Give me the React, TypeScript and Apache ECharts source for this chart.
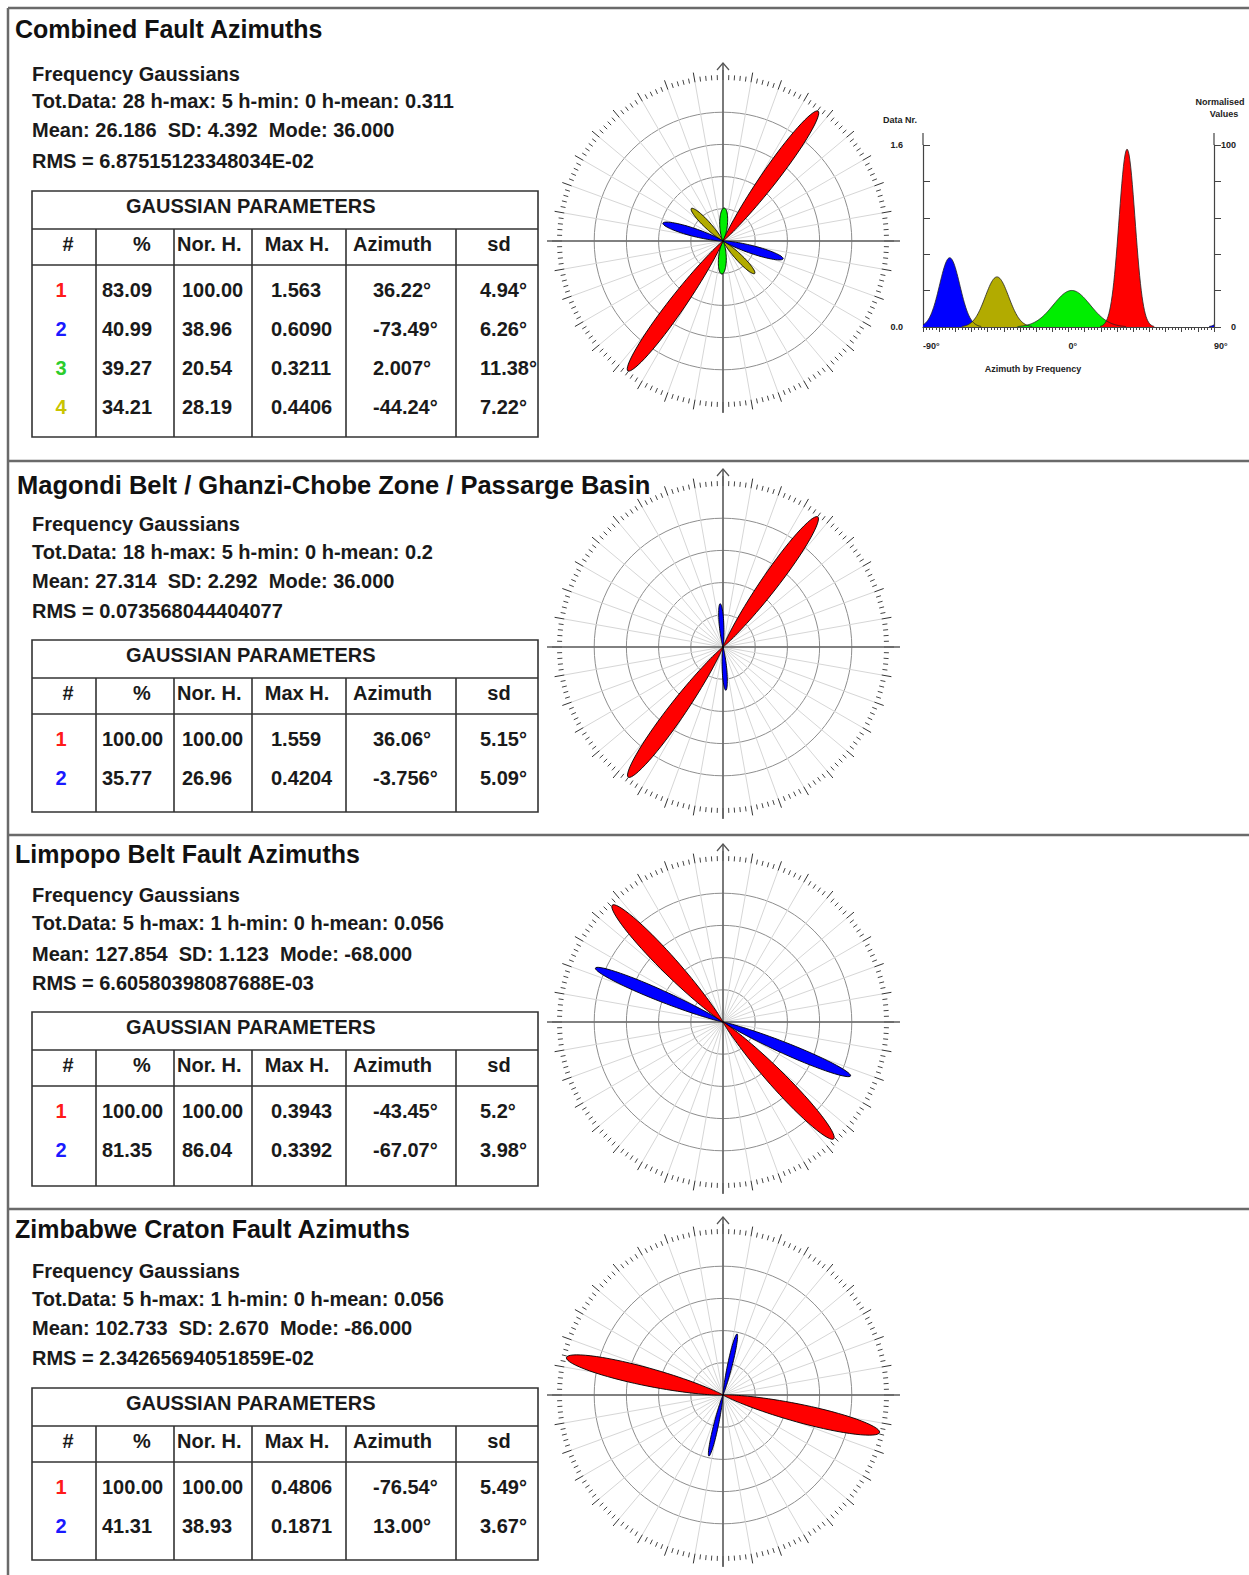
import React, { useEffect, useRef } from "react";
import * as echarts from "echarts";

const FONT = '"Liberation Sans", Arial, Helvetica, sans-serif';

// ---------- texts ----------
const panelTitles = [
  "Combined Fault Azimuths",
  "Magondi Belt / Ghanzi-Chobe Zone / Passarge Basin",
  "Limpopo Belt Fault Azimuths",
  "Zimbabwe Craton Fault Azimuths",
];
const subtitle = "Frequency Gaussians";
const totLines = [
  "Tot.Data: 28 h-max: 5 h-min: 0 h-mean: 0.311",
  "Tot.Data: 18 h-max: 5 h-min: 0 h-mean: 0.2",
  "Tot.Data: 5 h-max: 1 h-min: 0 h-mean: 0.056",
  "Tot.Data: 5 h-max: 1 h-min: 0 h-mean: 0.056",
];
const meanLines = [
  "Mean: 26.186  SD: 4.392  Mode: 36.000",
  "Mean: 27.314  SD: 2.292  Mode: 36.000",
  "Mean: 127.854  SD: 1.123  Mode: -68.000",
  "Mean: 102.733  SD: 2.670  Mode: -86.000",
];
const rmsLines = [
  "RMS = 6.87515123348034E-02",
  "RMS = 0.073568044404077",
  "RMS = 6.60580398087688E-03",
  "RMS = 2.34265694051859E-02",
];
const tableTitle = "GAUSSIAN PARAMETERS";
const columnHeads = ["#", "%", "Nor. H.", "Max H.", "Azimuth", "sd"];

// ---------- gaussian parameters (one array per column, per panel) ----------
const p1Pct = ["83.09", "40.99", "39.27", "34.21"];
const p1NorH = ["100.00", "38.96", "20.54", "28.19"];
const p1MaxH = ["1.563", "0.6090", "0.3211", "0.4406"];
const p1Az = ["36.22", "-73.49", "2.007", "-44.24"];
const p1Sd = ["4.94", "6.26", "11.38", "7.22"];

const p2Pct = ["100.00", "35.77"];
const p2NorH = ["100.00", "26.96"];
const p2MaxH = ["1.559", "0.4204"];
const p2Az = ["36.06", "-3.756"];
const p2Sd = ["5.15", "5.09"];

const p3Pct = ["100.00", "81.35"];
const p3NorH = ["100.00", "86.04"];
const p3MaxH = ["0.3943", "0.3392"];
const p3Az = ["-43.45", "-67.07"];
const p3Sd = ["5.2", "3.98"];

const p4Pct = ["100.00", "41.31"];
const p4NorH = ["100.00", "38.93"];
const p4MaxH = ["0.4806", "0.1871"];
const p4Az = ["-76.54", "13.00"];
const p4Sd = ["5.49", "3.67"];

const panels = [
  { pct: p1Pct, norH: p1NorH, maxH: p1MaxH, az: p1Az, sd: p1Sd },
  { pct: p2Pct, norH: p2NorH, maxH: p2MaxH, az: p2Az, sd: p2Sd },
  { pct: p3Pct, norH: p3NorH, maxH: p3MaxH, az: p3Az, sd: p3Sd },
  { pct: p4Pct, norH: p4NorH, maxH: p4MaxH, az: p4Az, sd: p4Sd },
];

// histogram axis labels
const histYLabels = ["0.0", "1.6"];
const histY2Labels = ["0", "100"];
const histXLabels = ["-90°", "0°", "90°"];

const gaussColors = ["#ff0000", "#0000ff", "#00ee00", "#b2ab00"];
const numberColors = ["#ff1a1a", "#1a1aff", "#2ccc2c", "#c9c400"];

// ---------- layout ----------
const roseCenters = [
  [723, 241],
  [723, 647],
  [723, 1022],
  [723, 1395],
];
const R = 161;
const titlePos = [
  [15, 29],
  [17, 485],
  [15, 854],
  [15, 1229],
];
const textLinesY = [
  [74, 101, 130, 161],
  [524, 552, 581, 611],
  [895, 923, 954, 983],
  [1271, 1299, 1328, 1358],
];
const tableTop = [191, 640, 1012, 1388];
const tableBottom = [437, 812, 1186, 1560];
const colX = [32, 96, 174, 252, 346, 456, 538];
const separatorsY = [8, 461, 835, 1209];

function normAngle(a: number) {
  return ((a % 360) + 360) % 360;
}

function renderPetal(params: any, api: any) {
  const h = api.value(0);
  const az = api.value(1);
  const sd = api.value(2);
  const color = api.visual("color");
  const children: any[] = [];
  for (const base of [az, az + 180]) {
    const pts: number[][] = [api.coord([0, 0])];
    const span = 3.8 * sd;
    for (let t = -span; t <= span + 1e-9; t += sd / 14) {
      const r = h * Math.exp(-(t * t) / (2 * sd * sd));
      pts.push(api.coord([r, normAngle(base + t)]));
    }
    children.push({
      type: "polygon",
      shape: { points: pts },
      style: { fill: color, stroke: "#000", lineWidth: 0.9 },
    });
  }
  return { type: "group", children };
}

function histSegments(az: number, sd: number, h: number) {
  const segs: number[][][] = [];
  let cur: number[][] | null = null;
  for (let x = -90; x <= 90.0001; x += 0.5) {
    let y = 0;
    for (const k of [-180, 0, 180]) {
      const d = x - az - k;
      y += h * Math.exp(-(d * d) / (2 * sd * sd));
    }
    if (y > 0.004) {
      if (!cur) {
        cur = [];
        segs.push(cur);
      }
      cur.push([x, y]);
    } else {
      cur = null;
    }
  }
  return segs;
}

function renderHistFill(params: any, api: any) {
  const az = api.value(0);
  const h = api.value(1);
  const sd = api.value(2);
  const color = api.visual("color");
  const segs = histSegments(az, sd, h);
  return {
    type: "group",
    children: segs.map((s) => ({
      type: "polygon",
      shape: {
        points: [
          api.coord([s[0][0], 0]),
          ...s.map((p) => api.coord(p)),
          api.coord([s[s.length - 1][0], 0]),
        ],
      },
      style: { fill: color, stroke: "none" },
    })),
  };
}

function renderHistLine(params: any, api: any) {
  const az = api.value(0);
  const h = api.value(1);
  const sd = api.value(2);
  const segs = histSegments(az, sd, h);
  return {
    type: "group",
    children: segs.map((s) => ({
      type: "polyline",
      shape: { points: s.map((p) => api.coord(p)) },
      style: { fill: "none", stroke: "#222", lineWidth: 0.8 },
    })),
  };
}

function txt(x: number, y: number, text: string, size: number, o: any = {}) {
  return {
    type: "text",
    x,
    y,
    z: 20,
    silent: true,
    style: {
      text,
      fontSize: size,
      fontWeight: o.weight || "bold",
      fontFamily: FONT,
      fill: o.fill || "#111",
      align: o.align || "left",
      verticalAlign: "middle",
    },
  };
}

function line(x1: number, y1: number, x2: number, y2: number, stroke: string, w: number, z = 20) {
  return { type: "line", z, silent: true, shape: { x1, y1, x2, y2 }, style: { stroke, lineWidth: w } };
}

function buildOption() {
  const elements: any[] = [];

  // panel frame
  separatorsY.forEach((y) => elements.push(line(8, y, 1249, y, "#6a6a6a", 2.5)));
  elements.push(line(8, 8, 8, 1575, "#6a6a6a", 2.5));

  panels.forEach((p, i) => {
    const [tx, ty] = titlePos[i];
    elements.push(txt(tx, ty, panelTitles[i], i === 1 ? 25.5 : 25, { fill: "#111" }));
    const ly = textLinesY[i];
    elements.push(txt(32, ly[0], subtitle, 20, { fill: "#1a1a1a" }));
    elements.push(txt(32, ly[1], totLines[i], 20, { fill: "#1a1a1a" }));
    elements.push(txt(32, ly[2], meanLines[i], 20, { fill: "#1a1a1a" }));
    elements.push(txt(32, ly[3], rmsLines[i], 20, { fill: "#1a1a1a" }));

    // table
    const top = tableTop[i];
    const bottom = tableBottom[i];
    const h1 = top + 38;
    const h2 = top + 74;
    const L = colX[0];
    const Rr = colX[colX.length - 1];
    elements.push({
      type: "rect",
      z: 20,
      silent: true,
      shape: { x: L, y: top, width: Rr - L, height: bottom - top },
      style: { fill: "none", stroke: "#333", lineWidth: 1.6 },
    });
    elements.push(line(L, h1, Rr, h1, "#333", 1.6));
    elements.push(line(L, h2, Rr, h2, "#333", 1.6));
    for (let c = 1; c < colX.length - 1; c++) elements.push(line(colX[c], h1, colX[c], bottom, "#333", 1.6));
    elements.push(txt(126, top + 15, tableTitle, 20, { fill: "#1a1a1a" }));
    const chY = top + 53;
    elements.push(txt(68, chY, columnHeads[0], 20, { align: "center", fill: "#1a1a1a" }));
    elements.push(txt(142, chY, columnHeads[1], 20, { align: "center", fill: "#1a1a1a" }));
    elements.push(txt(177, chY, columnHeads[2], 20, { fill: "#1a1a1a" }));
    elements.push(txt(297, chY, columnHeads[3], 20, { align: "center", fill: "#1a1a1a" }));
    elements.push(txt(353, chY, columnHeads[4], 20, { fill: "#1a1a1a" }));
    elements.push(txt(499, chY, columnHeads[5], 20, { align: "center", fill: "#1a1a1a" }));
    p.pct.forEach((_, k) => {
      const y = top + 99 + 39 * k;
      elements.push(txt(61, y, String(k + 1), 20, { align: "center", fill: numberColors[k] }));
      elements.push(txt(102, y, p.pct[k], 20, { fill: "#1a1a1a" }));
      elements.push(txt(182, y, p.norH[k], 20, { fill: "#1a1a1a" }));
      elements.push(txt(271, y, p.maxH[k], 20, { fill: "#1a1a1a" }));
      elements.push(txt(373, y, p.az[k] + "°", 20, { fill: "#1a1a1a" }));
      elements.push(txt(480, y, p.sd[k] + "°", 20, { fill: "#1a1a1a" }));
    });

    // rose axes cross + north arrow
    const [cx, cy] = roseCenters[i];
    elements.push(line(cx - 176, cy, cx + 177, cy, "#5e5e5e", 1.6, 1));
    elements.push(line(cx, cy - 178, cx, cy + 172, "#5e5e5e", 1.6, 1));
    elements.push({
      type: "polyline",
      z: 1,
      silent: true,
      shape: { points: [[cx - 6, cy - 171], [cx, cy - 178], [cx + 6, cy - 171]] },
      style: { fill: "none", stroke: "#555", lineWidth: 1.2 },
    });
  });

  // histogram extra labels / axis extensions
  elements.push(line(923, 133, 923, 145, "#444", 1.2));
  elements.push(line(1214, 133, 1214, 145, "#444", 1.2));
  elements.push(txt(900, 120, "Data Nr.", 9, { align: "center", fill: "#222" }));
  elements.push(txt(1220, 102, "Normalised", 9, { align: "center", fill: "#222" }));
  elements.push(txt(1224, 114, "Values", 9, { align: "center", fill: "#222" }));
  elements.push(txt(1033, 369, "Azimuth by Frequency", 9, { align: "center", fill: "#222" }));

  const polar = roseCenters.map((c) => ({ center: c, radius: R }));
  const angleAxis = roseCenters.map((_, i) => ({
    polarIndex: i,
    type: "value",
    min: 0,
    max: 360,
    interval: 10,
    startAngle: 90,
    clockwise: true,
    axisLine: { show: false },
    axisTick: { show: true, length: 10, lineStyle: { color: "#333", width: 1 } },
    minorTick: { show: true, splitNumber: 5, length: 5, lineStyle: { color: "#444", width: 1 } },
    axisLabel: { show: false },
    splitLine: { show: true, lineStyle: { color: "#d6d6d6", width: 1 } },
  }));
  const radiusAxis = roseCenters.map((_, i) => ({
    polarIndex: i,
    type: "value",
    min: 0,
    max: 100,
    interval: 20,
    axisLine: { show: false },
    axisTick: { show: false },
    axisLabel: { show: false },
    splitLine: {
      show: true,
      lineStyle: { color: ["#8e8e8e", "#8e8e8e", "#8e8e8e", "#8e8e8e", "#8e8e8e", "rgba(0,0,0,0)"], width: 1 },
    },
  }));

  const series: any[] = panels.map((p, i) => {
    const order = p.az.map((_, k) => k).reverse();
    return {
      type: "custom",
      coordinateSystem: "polar",
      polarIndex: i,
      z: 3,
      silent: true,
      renderItem: renderPetal,
      data: order.map((k) => ({
        value: [Number(p.norH[k]), Number(p.az[k]), Number(p.sd[k])],
        itemStyle: { color: gaussColors[k] },
      })),
    };
  });

  const p1 = panels[0];
  const histOrder = p1.az.map((_, k) => k).sort((a, b) => Number(p1.az[a]) - Number(p1.az[b]));
  const histData = histOrder.map((k) => ({
    value: [Number(p1.az[k]), Number(p1.maxH[k]), Number(p1.sd[k])],
    itemStyle: { color: gaussColors[k] },
  }));
  series.push({
    type: "custom",
    coordinateSystem: "cartesian2d",
    xAxisIndex: 0,
    yAxisIndex: 0,
    clip: true,
    z: 3,
    silent: true,
    renderItem: renderHistFill,
    data: histData,
  });
  series.push({
    type: "custom",
    coordinateSystem: "cartesian2d",
    xAxisIndex: 0,
    yAxisIndex: 0,
    clip: true,
    z: 4,
    silent: true,
    renderItem: renderHistLine,
    data: histData,
  });

  const smallLabel = { fontSize: 9, fontWeight: "bold", fontFamily: FONT, color: "#222" };

  return {
    animation: false,
    backgroundColor: "#ffffff",
    polar,
    angleAxis,
    radiusAxis,
    grid: [{ left: 923, top: 145, width: 291, height: 182 }],
    xAxis: [
      {
        gridIndex: 0,
        type: "value",
        min: -90,
        max: 90,
        interval: 10,
        axisLine: { onZero: false, lineStyle: { color: "#444", width: 1.2 } },
        axisTick: { show: true, length: 5, lineStyle: { color: "#444" } },
        minorTick: { show: true, splitNumber: 5, length: 3, lineStyle: { color: "#444" } },
        splitLine: { show: false },
        axisLabel: {
          ...smallLabel,
          interval: 0,
          showMinLabel: true,
          showMaxLabel: true,
          align: "left",
          margin: 14,
          formatter: (v: number) => (v === -90 ? histXLabels[0] : v === 0 ? histXLabels[1] : v === 90 ? histXLabels[2] : ""),
        },
      },
    ],
    yAxis: [
      {
        gridIndex: 0,
        type: "value",
        position: "left",
        min: 0,
        max: 1.6,
        interval: 0.32,
        axisLine: { show: true, onZero: false, lineStyle: { color: "#444", width: 1.2 } },
        axisTick: { show: true, inside: true, length: 7, lineStyle: { color: "#444" } },
        splitLine: { show: false },
        axisLabel: {
          ...smallLabel,
          margin: 20,
          showMinLabel: true,
          showMaxLabel: true,
          formatter: (v: number) => (Math.abs(v) < 1e-6 ? histYLabels[0] : Math.abs(v - 1.6) < 1e-6 ? histYLabels[1] : ""),
        },
      },
      {
        gridIndex: 0,
        type: "value",
        position: "right",
        min: 0,
        max: 100,
        interval: 20,
        axisLine: { show: true, onZero: false, lineStyle: { color: "#444", width: 1.2 } },
        axisTick: { show: true, inside: false, length: 7, lineStyle: { color: "#444" } },
        splitLine: { show: false },
        axisLabel: {
          ...smallLabel,
          align: "right",
          margin: 22,
          showMinLabel: true,
          showMaxLabel: true,
          formatter: (v: number) => (v === 0 ? histY2Labels[0] : v === 100 ? histY2Labels[1] : ""),
        },
      },
    ],
    graphic: { elements },
    series,
  };
}

export default function App() {
  const ref = useRef<HTMLDivElement>(null);
  useEffect(() => {
    document.body.style.margin = "0";
    document.body.style.overflow = "hidden";
    const chart = echarts.init(ref.current as HTMLDivElement, null, { renderer: "svg" });
    chart.setOption(buildOption() as any);
    return () => chart.dispose();
  }, []);
  return <div ref={ref} style={{ width: 1249, height: 1575, background: "#fff" }} />;
}
